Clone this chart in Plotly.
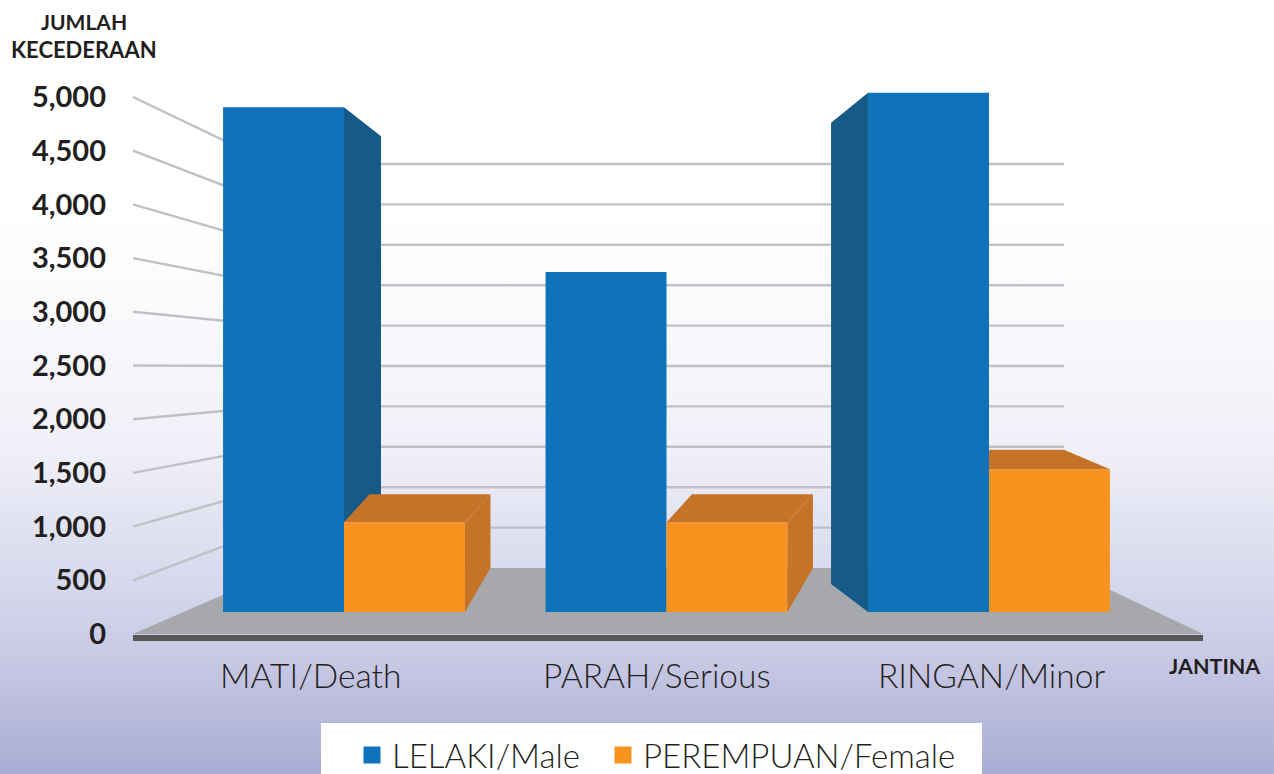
import plotly.graph_objects as go

# ---- data ----
categories = ["MATI/Death", "PARAH/Serious", "RINGAN/Minor"]
male = [4905, 3370, 5040]
female = [1040, 1040, 1535]
y_ticks = [0, 500, 1000, 1500, 2000, 2500, 3000, 3500, 4000, 4500, 5000]
series_names = ["LELAKI/Male", "PEREMPUAN/Female"]

# ---- layout geometry (pixels of the 1274x774 page) ----
W, H = 1274, 774
XS = 322.5      # px per category
YS = 0.1074     # px per value unit on the front axis
X0, Y0 = 344, 634
FLOOR_BASE = 205
BW = 0.375


def xd(px):
    return (px - X0) / XS


def yd(py):
    return (Y0 - py) / YS


x_range = [xd(0), xd(W)]
y_range = [yd(H), yd(0)]

BLUE, BLUE_D = "#0f72ba", "#165a88"
ORANGE, ORANGE_D = "#f7931e", "#c57326"
GRID, FLOOR, AXIS = "#c0c1c6", "#a7a8ab", "#58595b"
INK = "#231f20"
FONT = "Lato"

fig = go.Figure()


def poly(xs, ys, color, axes="x2y2", **kw):
    fig.add_trace(go.Scatter(x=xs, y=ys, mode="lines", fill="toself", fillcolor=color,
                             line=dict(width=0), showlegend=False, hoverinfo="skip",
                             xaxis=axes[:2] if axes[:2] == "x2" else "x",
                             yaxis=axes[2:] if axes[2:] == "y2" else "y", **kw))


# background gradient
fig.add_trace(go.Scatter(
    x=[x_range[0], x_range[1], x_range[1], x_range[0], x_range[0]],
    y=[y_range[0], y_range[0], y_range[1], y_range[1], y_range[0]],
    mode="lines", line=dict(width=0), fill="toself", showlegend=False, hoverinfo="skip",
    fillgradient=dict(type="vertical", colorscale=[
        [0.0, "#a9acd4"], [0.13, "#c4c5e2"], [0.22, "#d3d4ea"], [0.42, "#eff0f8"],
        [0.62, "#fbfbfd"], [0.74, "#ffffff"], [1.0, "#ffffff"]])))

# back wall + side wall gridlines
BACK_LEFT, BACK_RIGHT, WALL_SCALE, BACK_Y0 = 273, 1064, 0.0808, 568
for v in y_ticks[1:]:
    back = yd(BACK_Y0 - v * WALL_SCALE)
    fig.add_trace(go.Scatter(x=[xd(133), xd(BACK_LEFT), xd(BACK_RIGHT)], y=[v, back, back],
                             mode="lines", line=dict(color=GRID, width=2.4),
                             showlegend=False, hoverinfo="skip"))

# floor
poly([xd(133), xd(285), xd(BACK_RIGHT), xd(1203), xd(133)],
     [0, yd(BACK_Y0), yd(BACK_Y0), 0, 0], FLOOR, axes="xy")
fig.add_trace(go.Scatter(x=[xd(133), xd(1203)], y=[yd(638), yd(638)], mode="lines",
                         line=dict(color=AXIS, width=6), showlegend=False, hoverinfo="skip"))

# front faces
idx = list(range(len(categories)))
for k, (vals, col, off, nm) in enumerate([(male, BLUE, -BW, series_names[0]),
                                          (female, ORANGE, 0, series_names[1])]):
    fig.add_trace(go.Bar(x=idx, y=[v - FLOOR_BASE for v in vals], base=FLOOR_BASE, width=BW, offset=off,
                         marker=dict(color=col, line=dict(width=0)), name=nm, showlegend=False,
                         hoverinfo="skip", xaxis="x2", yaxis="y2"))
    fig.add_trace(go.Bar(x=[None], y=[None], name=nm, width=BW, offset=off,
                         marker=dict(color=col, line=dict(color=col, width=5)),
                         legend="legend" if k == 0 else "legend2",
                         xaxis="x2", yaxis="y2"))

# blue side faces
d = 37 / XS
poly([0, d, d, 0], [male[0], male[0] - 29 / YS, female[0] + 28 / YS, female[0]], BLUE_D)
poly([2 - BW, 2 - BW - d, 2 - BW - d, 2 - BW],
     [male[2], male[2] - 30 / YS, FLOOR_BASE + 28 / YS, FLOOR_BASE], BLUE_D)

# orange top and side faces
d2 = 25.5 / XS
for i in (0, 1):
    v = female[i]
    poly([i, i + BW, i + BW + d2, i + d2], [v, v, v + 28 / YS, v + 28 / YS], ORANGE_D)
    poly([i + BW, i + BW + d2, i + BW + d2, i + BW],
         [v, v + 28 / YS, FLOOR_BASE + 44 / YS, FLOOR_BASE], ORANGE_D)
v = female[2]
poly([2, 2 + BW, 2 + BW - 46 / XS, 2], [v, v, v + 19.5 / YS, v + 19.5 / YS], ORANGE_D)

label_x = [310, 657, 991]
legend_style = dict(orientation="h", xanchor="left", y=(H - 755) / H, yanchor="middle",
                    bgcolor="rgba(0,0,0,0)", font=dict(family=FONT, size=33, color=INK, weight=300),
                    itemclick=False, itemdoubleclick=False)
notes = [dict(text="JUMLAH", x=84 / W, y=(H - 21) / H, xref="paper", yref="paper",
              font=dict(family=FONT, size=21, color=INK, weight=700)),
         dict(text="KECEDERAAN", x=84 / W, y=(H - 49) / H, xref="paper", yref="paper",
              font=dict(family=FONT, size=22, color=INK, weight=700)),
         dict(text="JANTINA", x=1215 / W, y=(H - 666) / H, xref="paper", yref="paper",
              font=dict(family=FONT, size=21.5, color=INK, weight=700))]
for name, px in zip(categories, label_x):
    notes.append(dict(text=name, x=xd(px), y=yd(675), xref="x", yref="y",
                      font=dict(family=FONT, size=33.5, color=INK, weight=300)))
for a in notes:
    a.update(showarrow=False, xanchor="center", yanchor="middle")

fig.update_layout(
    width=W, height=H, margin=dict(l=0, r=0, t=0, b=0, autoexpand=False),
    paper_bgcolor="white", plot_bgcolor="rgba(0,0,0,0)",
    barmode="overlay", hovermode=False,
    xaxis=dict(range=x_range, domain=[0, 1], visible=False),
    yaxis=dict(range=y_range, domain=[0, 1], anchor="free", position=109 / W, side="right",
               ticklabelposition="inside", tickmode="array", tickvals=y_ticks, tickformat=",",
               ticks="", showgrid=False, zeroline=False, showline=False,
               tickfont=dict(family=FONT, size=29, color=INK, weight=700)),
    xaxis2=dict(range=x_range, overlaying="x", visible=False),
    yaxis2=dict(range=y_range, overlaying="y", visible=False),
    legend=dict(x=352 / W, **legend_style),
    legend2=dict(x=603 / W, **legend_style),
    shapes=[dict(type="rect", xref="paper", yref="paper", x0=321 / W, x1=982 / W,
                 y0=0, y1=(H - 723) / H, fillcolor="white", line=dict(width=0), layer="above")],
    annotations=notes,
)

fig.write_html("out.html", post_script="document.body.style.margin='0';",
               config={"displayModeBar": False})
